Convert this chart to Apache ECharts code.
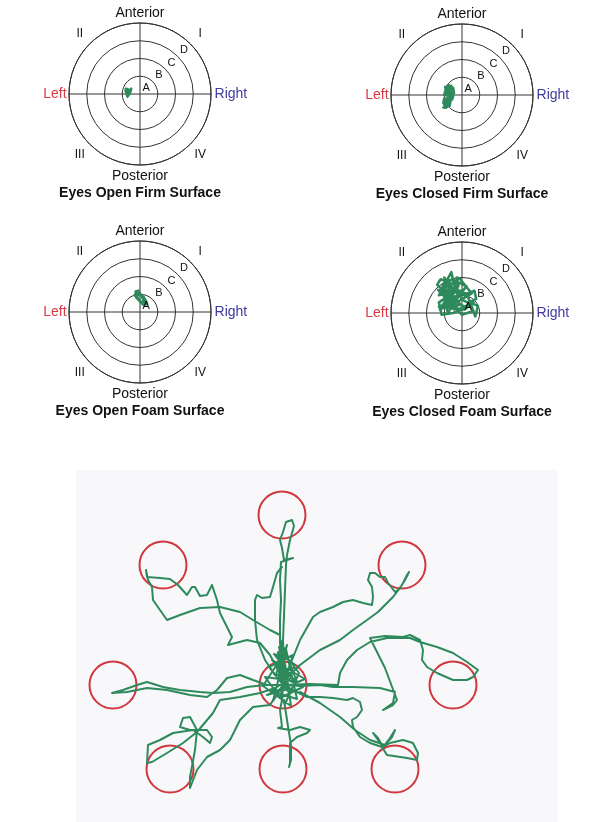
<!DOCTYPE html>
<html>
<head>
<meta charset="utf-8">
<script src="https://cdn.jsdelivr.net/npm/echarts/dist/echarts.min.js"></script>
<style>
  html, body { margin: 0; padding: 0; background: #ffffff; }
  #chart { width: 605px; height: 822px; }
</style>
</head>
<body>
<div id="chart"></div>
<script>
// ---- Static balance targets: ring letters, quadrant numerals, directions ----
const ringLetters = ['A', 'B', 'C', 'D'];
const ringValues = [1, 2, 3, 4];
const quadrantNumerals = ['I', 'II', 'III', 'IV'];
const directionNames = ['Anterior', 'Posterior', 'Left', 'Right'];
const conditionTitles = [
  'Eyes Open Firm Surface',
  'Eyes Closed Firm Surface',
  'Eyes Open Foam Surface',
  'Eyes Closed Foam Surface'
];

// Centre-of-pressure sway traces, in ring units (x = right, y = anterior)
const swayOpenFirm = [
  [-0.8, 0.3], [-0.75, 0.0], [-0.7, -0.15], [-0.6, -0.1], [-0.55, 0.1], [-0.5, 0.3],
  [-0.6, 0.15], [-0.7, 0.28], [-0.78, 0.1], [-0.65, -0.05], [-0.55, 0.2], [-0.68, 0.05],
  [-0.82, 0.2], [-0.72, -0.1], [-0.58, 0.0]
];
const swayClosedFirm = [
  [-0.6, 0.5], [-0.8, 0.55], [-0.9, 0.3], [-0.5, 0.4], [-0.45, 0.1], [-0.95, 0.2],
  [-1.0, 0.0], [-0.5, -0.05], [-0.55, -0.25], [-1.0, -0.2], [-1.05, -0.45], [-0.65, -0.35],
  [-0.7, -0.6], [-1.05, -0.7], [-0.9, -0.72], [-0.75, -0.5], [-0.95, -0.3], [-0.6, -0.15],
  [-0.85, 0.1], [-0.55, 0.3], [-0.7, 0.45], [-0.95, 0.45], [-0.8, -0.1], [-1.0, -0.55],
  [-0.8, -0.65], [-0.7, 0.2], [-0.85, -0.35], [-0.6, 0.05], [-0.9, -0.55]
];
const swayOpenFoam = [
  [-0.25, 1.15], [-0.1, 1.2], [0.0, 1.0], [0.2, 0.85], [0.35, 0.6], [0.4, 0.45],
  [0.2, 0.4], [0.05, 0.55], [-0.15, 0.75], [-0.3, 0.95], [-0.2, 1.1], [0.05, 0.9],
  [0.25, 0.7], [0.1, 0.5], [-0.05, 0.7], [-0.2, 0.85], [0.0, 1.05], [0.3, 0.5]
];
const swayClosedFoam = [
  [-0.2, 0.2], [-1.1, 1.4], [-0.3, 1.7], [-0.9, 0.5], [0.1, 1.3], [-1.3, 1.0],
  [-0.6, 2.3], [-0.45, 1.6], [-1.2, 1.9], [-1.4, 1.6], [-0.7, 0.9], [0.2, 0.3],
  [-0.5, 0.0], [-1.15, -0.1], [-1.3, 0.6], [-0.4, 1.2], [0.3, 1.1], [0.7, 1.25],
  [0.8, 0.8], [0.4, 0.6], [0.9, 0.4], [0.75, -0.2], [0.5, 0.5], [0.1, 0.7],
  [-0.8, 1.7], [-1.0, 2.0], [-0.6, 1.2], [-1.25, 0.2], [-0.3, 0.6], [0.55, 1.1],
  [-0.1, 1.9], [-0.3, 2.0], [-0.2, 1.5], [-0.9, 1.1], [-1.35, 1.3], [-0.5, 0.4],
  [0.0, -0.1], [0.6, 0.1], [0.35, 0.9], [-0.7, 1.4], [-1.0, 0.8], [-0.8, 0.0],
  [-0.15, 1.0], [0.25, 1.5], [-0.55, 1.9], [-1.1, 1.6], [-0.9, 0.3], [0.15, 0.2],
  [0.65, 0.6], [-0.2, 0.2], [-1.2, 1.2], [-0.4, 0.9], [-1.05, 0.45], [-0.25, 1.35],
  [-0.95, 1.55], [-0.6, 0.6], [-1.3, 0.35], [-0.1, 0.45], [-0.75, 1.15], [-0.45, 0.2]
];

// ---- Star excursion reach: target centres and hand traces (units, y up) ----
const TARGET_RADIUS = 23.5;
const targetCentres = [
  [0, 0], [-1, 170], [119, 120], [170, 0], [112, -84],
  [0, -84], [-113, -84], [-170, 0], [-120, 120]
];
const reachNorth = [
  [0, 5], [-2, 25], [-3, 45], [-3, 65], [-2, 85], [-3, 105], [-2, 123], [10, 127],
  [1, 125], [-1, 137], [-3, 145], [0, 153], [3, 163], [9, 165], [11, 159], [7, 145],
  [4, 130], [3, 120], [2, 95], [1, 70], [0, 45], [1, 15]
];
const reachNorthSide = [
  [-1, 118], [-6, 112], [-10, 98], [-13, 88], [-21, 87], [-26, 90], [-28, 85],
  [-28, 65], [-26, 45], [-18, 25], [-8, 10]
];
const reachNorthWest = [
  [0, 0], [-2, 30], [-3, 50], [-13, 55], [-30, 65], [-43, 73], [-63, 78], [-83, 77],
  [-103, 70], [-116, 65], [-123, 75], [-130, 85], [-131, 98], [-135, 105], [-137, 115],
  [-136, 108], [-123, 107], [-113, 106], [-105, 100], [-96, 90], [-91, 98], [-88, 98],
  [-83, 89], [-76, 90], [-71, 100], [-69, 98], [-66, 85], [-63, 72], [-56, 58],
  [-51, 48], [-55, 40], [-36, 45], [-23, 42], [-13, 30], [-5, 15], [0, 3]
];
const reachNorthEast = [
  [2, 5], [17, 20], [37, 35], [57, 45], [70, 55], [84, 65], [95, 73], [104, 82],
  [110, 88], [117, 97], [122, 105], [126, 113], [124, 110], [119, 100], [115, 95],
  [112, 93], [109, 97], [105, 102], [102, 108], [97, 108], [92, 112], [87, 112],
  [85, 105], [89, 98], [90, 88], [89, 80], [80, 82], [70, 85], [60, 83], [50, 78],
  [37, 73], [30, 68], [17, 45], [9, 25], [3, 10]
];
const reachEast = [
  [0, 0], [27, 1], [55, 0], [57, 12], [64, 25], [74, 35], [87, 43], [104, 47],
  [127, 47], [137, 43], [154, 38], [170, 32], [184, 23], [195, 15], [190, 8], [184, 5],
  [170, 5], [154, 12], [144, 18], [139, 25], [140, 35], [137, 45], [127, 50], [120, 48],
  [102, 49], [87, 47], [102, 17], [114, -15], [110, -20], [100, -25], [110, -18],
  [112, -7], [97, -3], [70, -2], [50, -2], [37, 0], [17, -1], [3, 0]
];
const reachSouthEast = [
  [0, 0], [24, -12], [37, -12], [50, -13], [64, -15], [70, -13], [77, -17], [79, -25],
  [74, -32], [69, -35], [70, -42], [77, -52], [87, -58], [99, -62], [104, -70],
  [124, -73], [134, -75], [135, -68], [130, -58], [120, -55], [107, -58], [100, -62],
  [95, -55], [90, -48], [95, -53], [100, -62], [107, -53], [112, -45], [109, -52],
  [102, -60], [87, -55], [72, -45], [57, -32], [37, -18], [17, -7]
];
const reachSouth = [
  [0, 0], [-1, -15], [-3, -25], [-1, -42], [-5, -43], [7, -45], [17, -42], [27, -45],
  [24, -48], [14, -52], [7, -58], [7, -78], [6, -82], [8, -75], [8, -60], [4, -35],
  [1, -15]
];
const reachSouthWest = [
  [0, 0], [-13, -20], [-30, -22], [-43, -35], [-53, -55], [-63, -65], [-76, -72],
  [-86, -85], [-93, -103], [-93, -92], [-88, -65], [-86, -45], [-93, -32], [-100, -33],
  [-103, -42], [-93, -45], [-76, -45], [-71, -52], [-73, -58], [-80, -52], [-90, -45],
  [-110, -48], [-123, -55], [-135, -60], [-136, -78], [-131, -77], [-116, -68],
  [-100, -58], [-86, -47], [-70, -28], [-63, -15], [-43, -12], [-23, -8], [-8, -3]
];
const reachWest = [
  [0, 0], [-18, 0], [-36, -2], [-53, -7], [-70, -8], [-83, -7], [-103, -5], [-120, -2],
  [-136, 3], [-146, 0], [-160, -5], [-171, -8], [-170, -10], [-156, -7], [-136, -3],
  [-116, -5], [-93, -10], [-76, -12], [-66, -5], [-56, 7], [-43, 10], [-30, 5], [-16, 0]
];
const reachCentre = [
  [0, 0], [-6, 22], [3, 36], [9, 8], [-12, -6], [14, -14], [5, 26], [-9, 31], [12, 4],
  [-18, 8], [2, -19], [16, 12], [-4, 38], [7, -9], [-14, 18], [10, 30], [-3, -13],
  [20, -2], [-7, 11], [4, 40], [-10, -16], [12, 20], [0, 30], [-20, -1], [8, -21],
  [3, 15], [-2, 44], [14, 3], [-11, 25], [22, 6], [-16, -10], [5, -4], [-5, 33], [0, 0]
];
const reachTraces = [
  reachCentre, reachNorth, reachNorthSide, reachNorthWest, reachNorthEast,
  reachEast, reachSouthEast, reachSouth, reachSouthWest, reachWest
];

// ---- Layout & styles ----
const FONT = "'Liberation Sans', Arial, sans-serif";
const INK = '#111111';
const RING = '#333333';
const GREEN = '#2e8a5c';
const RED = '#d0393f';
const R = 71;              // outer ring radius in px
const panels = [
  { cx: 140, cy: 94,  sway: swayOpenFirm },
  { cx: 462, cy: 95,  sway: swayClosedFirm },
  { cx: 140, cy: 312, sway: swayOpenFoam },
  { cx: 462, cy: 313, sway: swayClosedFoam }
];
const reachGrid = { left: 76, top: 470, width: 482, height: 352 };
const reachX = [-207, 275];
const reachY = [-137, 215];

const D45 = Math.SQRT1_2;

function targetLabels(title) {
  const items = [];
  ringLetters.forEach((t, i) => {
    const r = ringValues[i] - 0.5;
    items.push({ value: [r * D45, r * D45], name: t,
      label: { fontSize: 11, position: 'inside' } });
  });
  const quadAngles = [45, 135, 225, 315];
  quadrantNumerals.forEach((t, i) => {
    const a = quadAngles[i] * Math.PI / 180;
    items.push({ value: [4.8 * Math.cos(a), 4.8 * Math.sin(a)], name: t,
      label: { fontSize: 12, position: 'inside' } });
  });
  items.push({ value: [0, 4.56], name: directionNames[0], label: { fontSize: 14, position: 'inside' } });
  items.push({ value: [0, -4.62], name: directionNames[1], label: { fontSize: 14, position: 'inside' } });
  items.push({ value: [-4.14, 0], name: directionNames[2], label: { fontSize: 14, position: 'left', distance: 0, color: '#d93a44' } });
  items.push({ value: [4.2, 0], name: directionNames[3], label: { fontSize: 14, position: 'right', distance: 0, color: '#3f3a9c' } });
  items.push({ value: [0, -5.6], name: title, label: { fontSize: 14, fontWeight: 'bold', position: 'inside' } });
  return items;
}

const option = {
  animation: false,
  backgroundColor: '#ffffff',
  textStyle: { fontFamily: FONT },
  polar: panels.map(p => ({ center: [p.cx, p.cy], radius: R })),
  angleAxis: panels.map((p, i) => ({
    polarIndex: i, type: 'value', min: 0, max: 360, interval: 90, startAngle: 90,
    axisLine: { show: true, lineStyle: { color: RING, width: 1 } },
    axisTick: { show: false }, axisLabel: { show: false },
    splitLine: { show: true, lineStyle: { color: RING, width: 1 } }
  })),
  radiusAxis: panels.map((p, i) => ({
    polarIndex: i, type: 'value', min: 0, max: 4, interval: 1,
    axisLine: { show: false }, axisTick: { show: false }, axisLabel: { show: false },
    splitLine: { show: true, lineStyle: { color: RING, width: 1 } }
  })),
  grid: panels.map(p => ({
    left: p.cx - R, top: p.cy - R, width: 2 * R, height: 2 * R,
    show: false, containLabel: false, outerBoundsMode: 'none'
  })).concat([{
    left: reachGrid.left, top: reachGrid.top, width: reachGrid.width, height: reachGrid.height,
    show: true, backgroundColor: '#f8f8fa', borderWidth: 0,
    containLabel: false, outerBoundsMode: 'none'
  }]),
  xAxis: panels.map((p, i) => ({ gridIndex: i, type: 'value', min: -4, max: 4, show: false }))
    .concat([{ gridIndex: 4, type: 'value', min: reachX[0], max: reachX[1], show: false }]),
  yAxis: panels.map((p, i) => ({ gridIndex: i, type: 'value', min: -4, max: 4, show: false }))
    .concat([{ gridIndex: 4, type: 'value', min: reachY[0], max: reachY[1], show: false }]),
  series: []
};

panels.forEach((p, i) => {
  option.series.push({
    type: 'line', xAxisIndex: i, yAxisIndex: i, data: p.sway,
    symbol: 'none', smooth: false, clip: false, z: 3,
    lineStyle: { color: GREEN, width: 2.6, join: 'round', cap: 'round' }
  });
  option.series.push({
    type: 'scatter', xAxisIndex: i, yAxisIndex: i, symbolSize: 0, clip: false, z: 5,
    data: targetLabels(conditionTitles[i]),
    itemStyle: { opacity: 1 },
    label: { show: true, formatter: '{b}', color: INK, fontFamily: FONT, opacity: 1 },
    emphasis: { disabled: true }
  });
});

option.series.push({
  type: 'custom', xAxisIndex: 4, yAxisIndex: 4, data: targetCentres, z: 2,
  renderItem: function (params, api) {
    const c = api.coord([api.value(0), api.value(1)]);
    const r = api.size([TARGET_RADIUS, 0])[0];
    return {
      type: 'circle',
      shape: { cx: c[0], cy: c[1], r: r },
      style: { fill: 'none', stroke: RED, lineWidth: 2 }
    };
  }
});

reachTraces.forEach(trace => {
  option.series.push({
    type: 'line', xAxisIndex: 4, yAxisIndex: 4, data: trace,
    symbol: 'none', smooth: false, clip: false, z: 3,
    lineStyle: { color: GREEN, width: 2, join: 'round', cap: 'round' }
  });
});

const chart = echarts.init(document.getElementById('chart'), null, { renderer: 'canvas' });
chart.setOption(option);
</script>
</body>
</html>
